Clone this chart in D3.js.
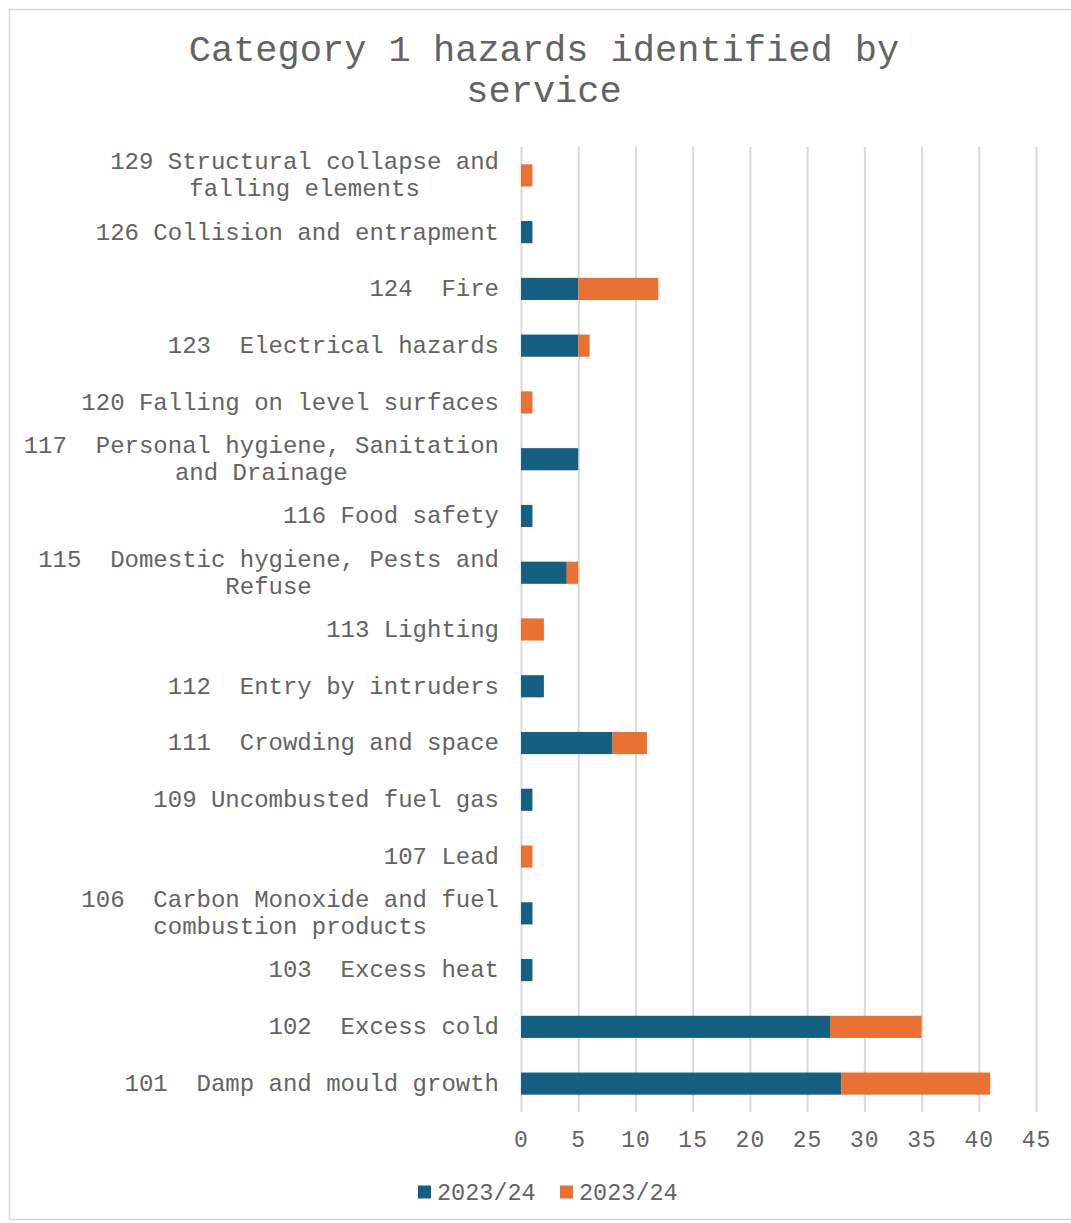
<!DOCTYPE html>
<html>
<head>
<meta charset="utf-8">
<script src="https://cdn.jsdelivr.net/npm/d3@7"></script>
<style>
  body { margin: 0; background: #fff; }
  text { font-family: "Liberation Mono", "Courier New", monospace; fill: #636363; }
</style>
</head>
<body>
<div id="chart"></div>
<script>
var categories = [
  "129 Structural collapse and falling elements",
  "126 Collision and entrapment",
  "124  Fire",
  "123  Electrical hazards",
  "120 Falling on level surfaces",
  "117  Personal hygiene, Sanitation and Drainage",
  "116 Food safety",
  "115  Domestic hygiene, Pests and Refuse",
  "113 Lighting",
  "112  Entry by intruders",
  "111  Crowding and space",
  "109 Uncombusted fuel gas",
  "107 Lead",
  "106  Carbon Monoxide and fuel combustion products",
  "103  Excess heat",
  "102  Excess cold",
  "101  Damp and mould growth"
];
var seriesNames = ["2023/24", "2023/24"];
var blueValues   = [0, 1, 5, 5, 0, 5, 1, 4, 0, 2, 8, 1, 0, 1, 1, 27, 28];
var orangeValues = [1, 0, 7, 1, 1, 0, 0, 1, 2, 0, 3, 0, 1, 0, 0, 8, 13];
var xTicks = [0, 5, 10, 15, 20, 25, 30, 35, 40, 45];
var colors = ["#156082", "#E97132"];

var width = 1071, height = 1223;
var margin = {left: 521, right: 35, top: 147, bottom: 111};

var svg = d3.select("#chart").append("svg")
  .attr("width", width)
  .attr("height", height);

// chart frame
svg.append("rect")
  .attr("x", 9.5).attr("y", 9.5)
  .attr("width", 1075).attr("height", 1210)
  .attr("fill", "#fff")
  .attr("stroke", "#d9d9d9")
  .attr("stroke-width", 1.5);

// title
svg.append("text")
  .attr("x", 544).attr("y", 61)
  .attr("text-anchor", "middle")
  .style("font-size", "37px")
  .text("Category 1 hazards identified by");
svg.append("text")
  .attr("x", 544).attr("y", 102)
  .attr("text-anchor", "middle")
  .style("font-size", "37px")
  .text("service");

var x = d3.scaleLinear()
  .domain([0, 45])
  .range([margin.left, width - margin.right]);

var y = d3.scaleBand()
  .domain(categories)
  .range([margin.top, height - margin.bottom])
  .paddingInner(0.61)
  .paddingOuter(0.305);

// gridlines
var grid = svg.append("g")
  .attr("transform", "translate(0," + (height - margin.bottom) + ")")
  .call(d3.axisBottom(x).tickValues(xTicks).tickSize(-(height - margin.bottom - margin.top)).tickFormat(""));
grid.select(".domain").remove();
grid.selectAll("line").attr("stroke", "#d9d9d9").attr("stroke-width", 2);

// stacked bars
var rows = categories.map(function(c, i) {
  return {cat: c, v0: blueValues[i], v1: orangeValues[i]};
});
var stack = d3.stack().keys(["v0", "v1"])(rows);

svg.append("g").selectAll("g")
  .data(stack)
  .enter().append("g")
    .attr("fill", function(d, i) { return colors[i]; })
  .selectAll("rect")
  .data(function(d) { return d; })
  .enter().append("rect")
    .attr("x", function(d) { return x(d[0]); })
    .attr("y", function(d) { return y(d.data.cat); })
    .attr("width", function(d) { return x(d[1]) - x(d[0]); })
    .attr("height", y.bandwidth());

// x axis labels
var xAxis = svg.append("g")
  .attr("transform", "translate(0," + (height - margin.bottom) + ")")
  .call(d3.axisBottom(x).tickValues(xTicks).tickSize(0).tickPadding(19));
xAxis.select(".domain").remove();
xAxis.selectAll("text")
  .style("font-size", "23px")
  .style("letter-spacing", "1px")
  .attr("fill", "#636363");

// category labels, wrapped and centred line to line like Excel does
var labelRight = 499, maxW = 482, lineH = 27;
var labels = svg.append("g").style("font-size", "24px");
categories.forEach(function(c) {
  var words = c.split(" ");
  var lines = [], cur = "";
  var probe = labels.append("text").attr("xml:space", "preserve");
  words.forEach(function(w, k) {
    var test = k === 0 ? w : cur + " " + w;
    probe.text(test);
    if (probe.node().getComputedTextLength() > maxW && cur !== "") {
      lines.push(cur);
      cur = w;
    } else {
      cur = test;
    }
  });
  lines.push(cur);
  var widths = lines.map(function(l) { probe.text(l); return probe.node().getComputedTextLength(); });
  probe.remove();
  var blockW = d3.max(widths);
  var cy = y(c) + y.bandwidth() / 2;
  lines.forEach(function(l, k) {
    labels.append("text")
      .attr("xml:space", "preserve")
      .attr("x", labelRight - blockW / 2)
      .attr("y", cy + (k - (lines.length - 1) / 2) * lineH - 1)
      .attr("dy", "0.35em")
      .attr("text-anchor", "middle")
      .text(l);
  });
});

// legend
var legend = svg.append("g").attr("transform", "translate(418,1192)");
var lx = [0, 142];
seriesNames.forEach(function(n, i) {
  var g = legend.append("g").attr("transform", "translate(" + lx[i] + ",0)");
  g.append("rect").attr("x", 0).attr("y", -6.5).attr("width", 13).attr("height", 13).attr("fill", colors[i]);
  g.append("text").attr("x", 19).attr("y", 0).attr("dy", "0.35em")
    .style("font-size", "23.5px").text(n);
});
</script>
</body>
</html>
